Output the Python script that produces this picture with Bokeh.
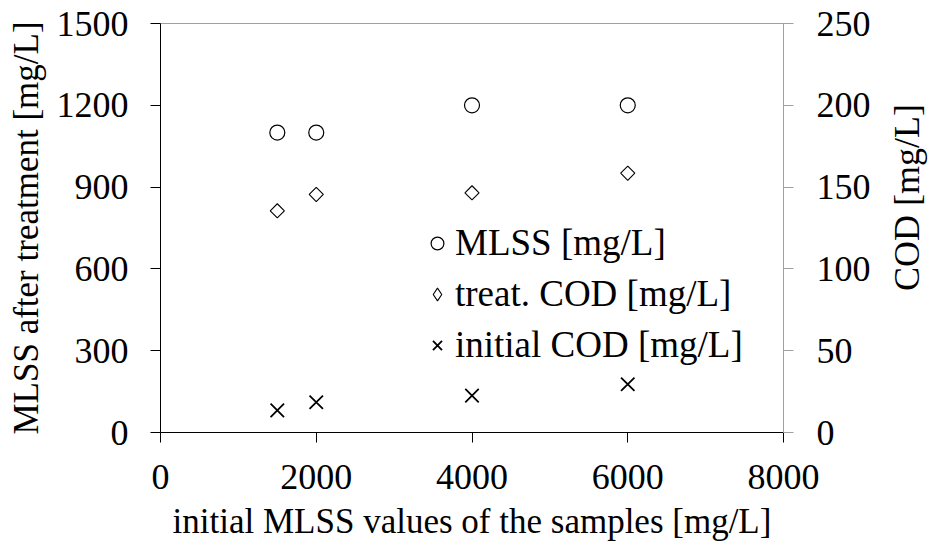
import math
from bokeh.plotting import figure
from bokeh.models import Range1d, LinearAxis, Legend, LegendItem, FixedTicker, Label
from bokeh.embed import file_html
from bokeh.resources import INLINE

# ---- data ----
initial_mlss = [1500, 2000, 4000, 6000]
mlss_after = [1100, 1100, 1200, 1200]
treat_cod = [135.5, 145.5, 146.5, 158.5]
initial_cod = [13.5, 18.5, 22.5, 29.5]
x_ticks = [0, 2000, 4000, 6000, 8000]
left_ticks = [0, 300, 600, 900, 1200, 1500]
right_ticks = [0, 50, 100, 150, 200, 250]
legend_labels = ["MLSS [mg/L]", "treat. COD [mg/L]", "initial COD [mg/L]"]
right_title = "COD [mg/L]"

FONT = "'Liberation Serif'"
TICK_FS = "36px"
LABEL_FS = "35px"
LEG_FS = "37px"
GRAY = "#a0a0a0"

p = figure(width=932, height=547, output_backend="svg", toolbar_location=None,
           x_range=Range1d(0, 8000), y_range=Range1d(0, 1500),
           min_border_left=160, min_border_right=149, min_border_top=23,
           min_border_bottom=115,
           x_axis_label="initial MLSS values of the samples [mg/L]",
           y_axis_label="MLSS after treatment [mg/L]")
p.extra_y_ranges = {"cod": Range1d(0, 250)}
p.grid.visible = False
p.outline_line_color = GRAY
p.outline_line_width = 1
p.background_fill_color = "white"
p.border_fill_color = "white"


def style_axis(ax, color="black"):
    ax.axis_line_color = color
    ax.axis_line_width = 1
    ax.major_tick_line_color = color
    ax.minor_tick_line_color = None
    ax.major_tick_out = 10
    ax.major_tick_in = 0
    ax.major_label_text_font = FONT
    ax.major_label_text_font_size = TICK_FS
    ax.major_label_text_color = "black"
    ax.axis_label_text_font = FONT
    ax.axis_label_text_font_size = LABEL_FS
    ax.axis_label_text_font_style = "normal"
    ax.axis_label_text_color = "black"


xa = p.xaxis[0]
style_axis(xa)
xa.ticker = FixedTicker(ticks=x_ticks)
xa.major_label_standoff = 22
xa.axis_label_standoff = 10

ya = p.yaxis[0]
style_axis(ya)
ya.ticker = FixedTicker(ticks=left_ticks)
ya.major_label_standoff = 22
ya.axis_label_standoff = 8

ra = LinearAxis(y_range_name="cod", ticker=FixedTicker(ticks=right_ticks))
style_axis(ra, GRAY)
ra.major_label_standoff = 23
p.add_layout(ra, "right")

# right axis title, reading bottom-to-top, in the right side panel
p.add_layout(Label(x=33, y=235, x_units="screen", y_units="screen",
                   text=right_title, angle=math.pi / 2,
                   text_align="center", text_baseline="alphabetic",
                   text_font=FONT, text_font_size="36px",
                   text_color="black"), "right")

r1 = p.scatter(initial_mlss, mlss_after, marker="circle", size=15,
               fill_color=None, line_color="black", line_width=1.2)
r2 = p.scatter(initial_mlss, treat_cod, marker="square", angle=math.pi / 4,
               size=10, fill_color=None, line_color="black", line_width=1.1,
               y_range_name="cod")
r2_leg = p.scatter(initial_mlss, treat_cod, marker="diamond", size=14,
                   fill_color=None, line_color="black", line_width=1.1,
                   y_range_name="cod", visible=False)
r3 = p.scatter(initial_mlss, initial_cod, marker="x", size=19,
               line_color="black", line_width=1.8, y_range_name="cod")

leg_renderers = [r1, r2_leg, r3]
leg_offsets = [168, 117, 66]
for rend, lab, off in zip(leg_renderers, legend_labels, leg_offsets):
    leg = Legend(items=[LegendItem(label=lab, renderers=[rend])],
                 location=(261, off), orientation="vertical",
                 border_line_color=None, background_fill_alpha=0,
                 padding=0, margin=0, spacing=0, label_standoff=2,
                 glyph_width=32, glyph_height=40, label_height=40,
                 label_text_font=FONT, label_text_font_size=LEG_FS,
                 label_text_color="black")
    p.add_layout(leg)

open("out.html", "w").write(file_html(p, INLINE))
